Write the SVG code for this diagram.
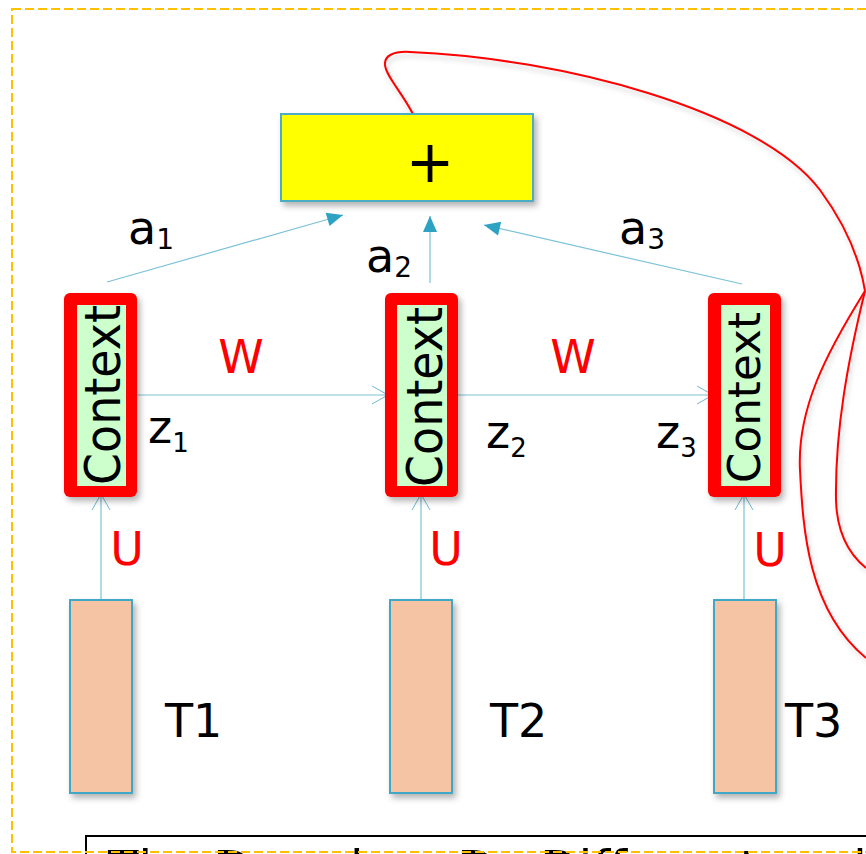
<svg xmlns="http://www.w3.org/2000/svg" width="866" height="854" viewBox="0 0 866 854">
<defs>
<filter id="sh" x="-20%" y="-20%" width="150%" height="150%">
<feDropShadow dx="3" dy="4" stdDeviation="3" flood-color="#000" flood-opacity="0.3"/>
</filter>
<filter id="lsh" x="-5%" y="-5%" width="110%" height="120%">
<feDropShadow dx="2" dy="4" stdDeviation="2.5" flood-color="#000" flood-opacity="0.18"/>
</filter>
<marker id="open" markerUnits="userSpaceOnUse" markerWidth="20" markerHeight="22" viewBox="0 0 20 22" refX="18" refY="11" orient="auto">
<path d="M2,2 L18,11 L2,20" fill="none" stroke="#6FB9D0" stroke-width="1"/>
</marker>
<marker id="solid" markerUnits="userSpaceOnUse" markerWidth="18" markerHeight="16" viewBox="0 0 18 16" refX="17" refY="8" orient="auto">
<path d="M1,1 L17,8 L1,15 Z" fill="#2EA2C3"/>
</marker>
<style>
.lbl{font-family:"DejaVu Sans",sans-serif;font-size:46px;fill:#000}
.red{font-family:"DejaVu Sans",sans-serif;font-size:46px;fill:#FF0000}
.ctx{font-family:"DejaVu Sans",sans-serif;fill:#000}
.conn{fill:none;stroke:#7CC2D7;stroke-width:1.2}
.tbox{fill:#F5C4A4;stroke:#3FA8C6;stroke-width:2}
.outer{fill:#FF0000}
.inner{fill:#CCFFCC}
.curve{fill:none;stroke:#FF0000;stroke-width:2}
</style>
</defs>
<rect width="866" height="854" fill="#FFFFFF"/>

<g id="bottom-box">
<rect x="86" y="836" width="800" height="60" fill="#FFFFFF" stroke="#000" stroke-width="2"/>
<text class="lbl" y="886" style="font-size:50px"><tspan x="108">The</tspan><tspan x="213">Dog</tspan><tspan x="350">has</tspan><tspan x="457">Do</tspan><tspan x="540">Different</tspan><tspan x="853">lots</tspan></text>
</g>

<g id="red-curves" filter="url(#lsh)">
<path class="curve" d="M413,114 C401,91 386,76 385,65 C384,56 393,51 410,52 C560,58 760,110 820,190 C848,228 860,260 865,291"/>
<path class="curve" d="M865,291 C825,355 797,410 800,470 C803,530 808,610 866,658"/>
<path class="curve" d="M865,291 C848,360 835,430 836,500 C837,535 850,555 866,568"/>
</g>

<g id="plus-node">
<rect x="281" y="114" width="252" height="87" fill="#FFFF00" stroke="#4BACC6" stroke-width="2" filter="url(#sh)"/>
<text class="lbl" x="430" y="182" text-anchor="middle" style="font-size:58px">+</text>
</g>

<g id="connectors">
<line class="conn" x1="107" y1="282" x2="343" y2="215" marker-end="url(#solid)"/>
<line class="conn" x1="430" y1="283" x2="430" y2="216" marker-end="url(#solid)"/>
<line class="conn" x1="742" y1="284" x2="484" y2="225" marker-end="url(#solid)"/>
<line class="conn" x1="131" y1="395" x2="388" y2="395" marker-end="url(#open)"/>
<line class="conn" x1="453" y1="395" x2="713" y2="395" marker-end="url(#open)"/>
<line class="conn" x1="101" y1="600" x2="101" y2="494" marker-end="url(#open)"/>
<line class="conn" x1="421" y1="600" x2="421" y2="494" marker-end="url(#open)"/>
<line class="conn" x1="744" y1="600" x2="744" y2="494" marker-end="url(#open)"/>
</g>

<g id="context1">
<rect class="outer" x="64" y="293" width="73" height="204" rx="6" filter="url(#sh)"/>
<rect class="inner" x="77" y="305" width="49" height="181"/>
<text class="ctx" transform="translate(120,485) rotate(-90)" font-size="50" textLength="180" lengthAdjust="spacingAndGlyphs">Context</text>
</g>
<g id="context2">
<rect class="outer" x="385" y="293" width="73" height="204" rx="6" filter="url(#sh)"/>
<rect class="inner" x="397" y="305" width="50" height="181"/>
<text class="ctx" transform="translate(442,487) rotate(-90)" font-size="50" textLength="180" lengthAdjust="spacingAndGlyphs">Context</text>
</g>
<g id="context3">
<rect class="outer" x="708" y="293" width="73" height="204" rx="6" filter="url(#sh)"/>
<rect class="inner" x="721" y="305" width="49" height="181"/>
<text class="ctx" transform="translate(760,483) rotate(-90)" font-size="45" textLength="171" lengthAdjust="spacingAndGlyphs">Context</text>
</g>

<g id="T1"><rect class="tbox" x="70" y="600" width="62" height="193" filter="url(#sh)"/><text class="lbl" x="165" y="737">T1</text></g>
<g id="T2"><rect class="tbox" x="390" y="600" width="62" height="193" filter="url(#sh)"/><text class="lbl" x="490" y="737">T2</text></g>
<g id="T3"><rect class="tbox" x="714" y="600" width="62" height="193" filter="url(#sh)"/><text class="lbl" x="785" y="737">T3</text></g>

<g id="labels">
<text class="lbl" x="128" y="244">a<tspan font-size="28" dy="5">1</tspan></text>
<text class="lbl" x="366" y="272">a<tspan font-size="28" dy="5">2</tspan></text>
<text class="lbl" x="619" y="244">a<tspan font-size="28" dy="5">3</tspan></text>
<text class="lbl" x="148" y="443">z<tspan font-size="26" dy="9">1</tspan></text>
<text class="lbl" x="486" y="448">z<tspan font-size="26" dy="9">2</tspan></text>
<text class="lbl" x="656" y="448">z<tspan font-size="26" dy="9">3</tspan></text>
<text class="red" x="241" y="373" text-anchor="middle">W</text>
<text class="red" x="573" y="373" text-anchor="middle">W</text>
<text class="red" x="127" y="565" text-anchor="middle">U</text>
<text class="red" x="446" y="565" text-anchor="middle">U</text>
<text class="red" x="770" y="566" text-anchor="middle">U</text>
</g>

<rect id="frame" x="12" y="9" width="900" height="843" fill="none" stroke="#FFC000" stroke-width="2" stroke-dasharray="9,4"/>
</svg>
